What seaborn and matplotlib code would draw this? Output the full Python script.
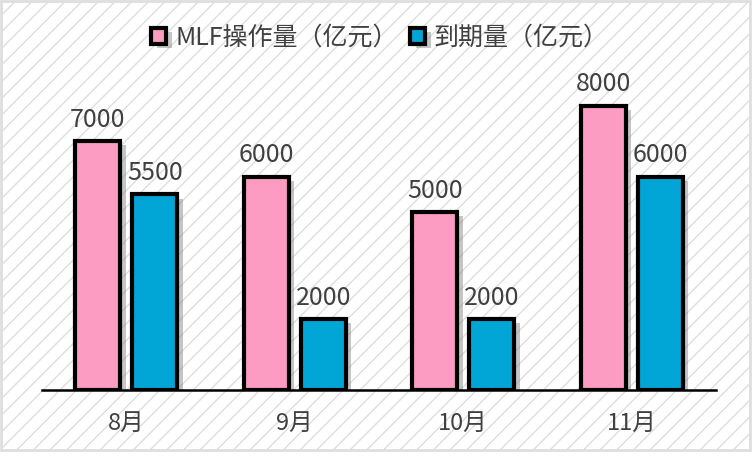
import matplotlib
matplotlib.use('Agg')
import matplotlib.pyplot as plt
import seaborn as sns
import pandas as pd
from matplotlib.patches import Rectangle
import matplotlib.patheffects as pe

months = ['8月', '9月', '10月', '11月']
series = ['MLF操作量（亿元）', '到期量（亿元）']
mlf = [7000, 6000, 5000, 8000]
due = [5500, 2000, 2000, 6000]
colors = ['#FC9CC2', '#02A6D6']

sns.set_theme(style='white')
plt.rcParams['font.family'] = ['Noto Sans CJK SC', 'DejaVu Sans']
plt.rcParams['hatch.linewidth'] = 1.0

W, H = 752, 465
fig = plt.figure(figsize=(W / 100, H / 100), dpi=100)
fig.patch.set_facecolor('white')
bg = Rectangle((1 / W, 15 / H), (W - 3) / W, (H - 16) / H, transform=fig.transFigure,
               facecolor='white', edgecolor='#dedede', hatch='//', lw=2, zorder=-10)
fig.add_artist(bg)

ax = fig.add_axes([42 / W, 1 - 390 / H, (716 - 42) / W, (390 - 70) / H])
ax.set_facecolor('none')

df = pd.DataFrame({
    'month': months * 2,
    'series': [series[0]] * len(months) + [series[1]] * len(months),
    'value': mlf + due,
})
sns.barplot(data=df, x='month', y='value', hue='series', hue_order=series,
            palette=colors, width=0.68, gap=0.215, edgecolor='black',
            linewidth=3, saturation=1, ax=ax, legend=True)

for p in ax.patches:
    p.set_path_effects([pe.SimplePatchShadow(offset=(4, -3), shadow_rgbFace='#7f7f7f', alpha=0.45),
                        pe.Normal()])

for c in ax.containers:
    ax.bar_label(c, padding=6, fontsize=18, color='#404040')

ax.set_ylim(0, 9000)
ax.set_yticks([])
ax.set_xlabel('')
ax.set_ylabel('')
for s in ['left', 'top', 'right']:
    ax.spines[s].set_visible(False)
ax.spines['bottom'].set_color('black')
ax.spines['bottom'].set_linewidth(1.8)
ax.tick_params(axis='x', length=0, labelsize=17, labelcolor='#404040', pad=16)

handles, labels = ax.get_legend_handles_labels()
ax.legend_.remove()
fig.legend(handles, labels, loc='center', bbox_to_anchor=(380 / W, 1 - 38 / H), ncol=2,
           frameon=False, fontsize=18, handlelength=0.6, handleheight=0.6,
           handletextpad=0.35, columnspacing=0.5, labelcolor='#404040')

fig.savefig('out.png', dpi=100)
